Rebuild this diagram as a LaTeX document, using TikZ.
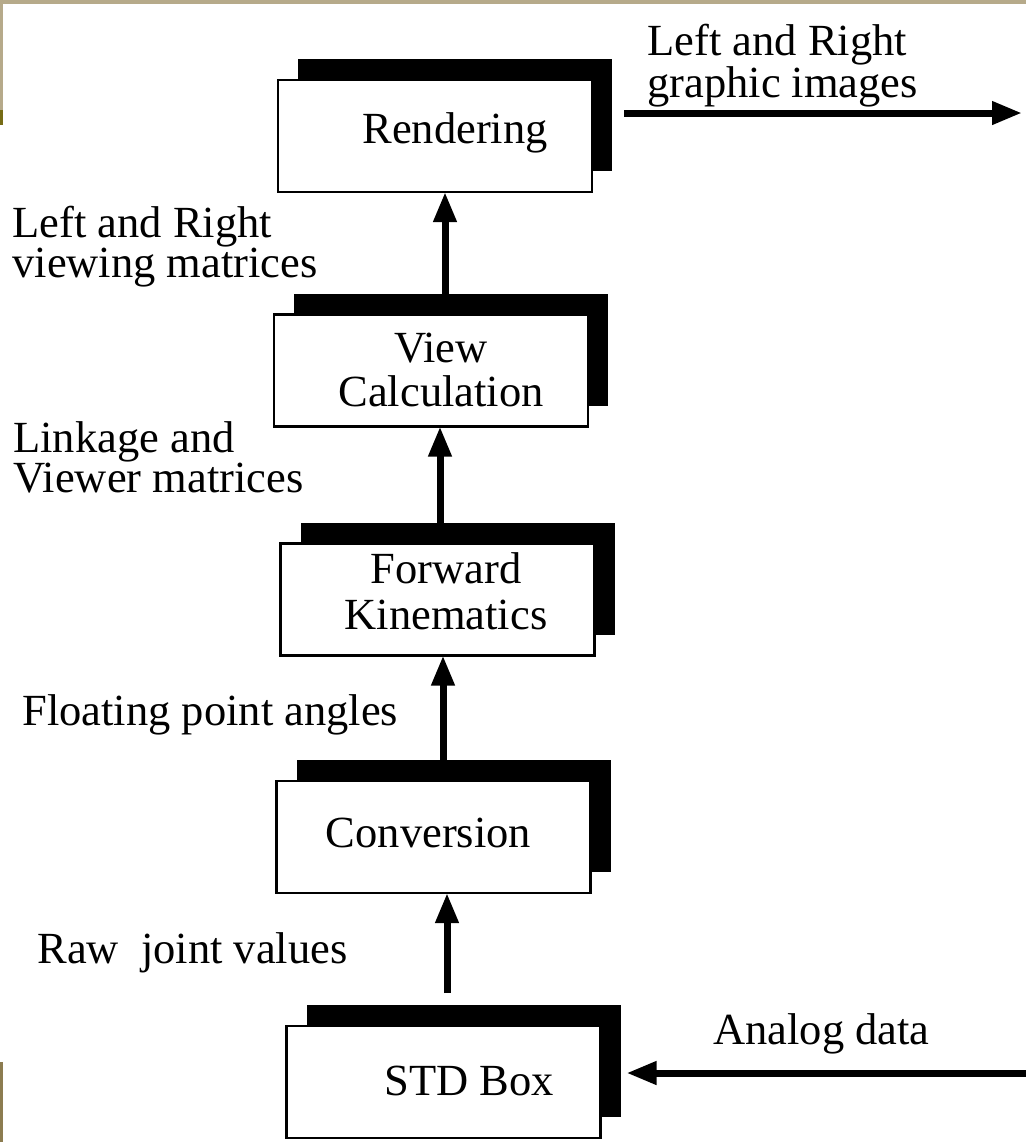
\documentclass[tikz,border=0pt]{standalone}
\usepackage{fontspec}
\setmainfont{Liberation Serif}
\usetikzlibrary{arrows.meta,calc}
\definecolor{khakiband}{RGB}{182,170,138}
\definecolor{olivebar}{RGB}{118,108,22}
\definecolor{darkkhaki}{RGB}{140,124,80}
\newcommand\twoleft[2]{\vtop{\baselineskip=20pt\hbox{#1}\hbox{#2}}}
\newcommand\twocent[3]{\vtop{\baselineskip=#3\halign{\hfil##\hfil\cr#1\cr#2\cr}}}
\begin{document}
\begin{tikzpicture}[x=0.5pt,y=-0.5pt,
  box/.style={draw,line width=1.2pt,fill=white,minimum width=157pt,minimum height=56pt,inner sep=0pt,outer sep=0pt},
  shadowbox/.style={fill=black,minimum width=157pt,minimum height=56pt,inner sep=0pt,outer sep=0pt},
  lbl/.style={inner sep=0pt,anchor=base west,font=\fontsize{22.25}{20}\selectfont},
  ttl/.style={inner sep=0pt,anchor=base,font=\fontsize{22.25}{22}\selectfont},
  arr/.style={line width=3.5pt,-{Triangle[length=15pt,width=11pt]}}]
\useasboundingbox (0,0) rectangle (1026,1142);
\fill[white] (0,0) rectangle (1026,1142);
% slide background edges
\fill[khakiband] (0,0) rectangle (1026,4);
\fill[khakiband] (0,0) rectangle (3,110);
\fill[olivebar] (0,110) rectangle (3,125);
\fill[darkkhaki] (0,1062) rectangle (3,1142);

% shadows
\node[shadowbox] (rs) at (455,115) {};
\node[shadowbox] (vs) at (451,349.5) {};
\node[shadowbox] (fs) at (457.5,578.5) {};
\node[shadowbox] (cs) at (453.5,816) {};
\node[shadowbox] (ss) at (463.5,1061) {};

% boxes
\node[box] (rend) at (435,136) {};
\node[box] (vc) at (431,370.5) {};
\node[box] (fk) at (437.5,599.5) {};
\node[box] (cv) at (433.5,837) {};
\node[box] (sd) at (443.5,1082) {};

% box texts
\node[ttl] (trend) at (455,143) {Rendering};
\node[ttl] (tvc) at (441,362) {\twocent{View}{Calculation}{22pt}};
\node[ttl] (tfk) at (446,583) {\twocent{Forward}{Kinematics}{23pt}};
\node[ttl] (tcv) at (428.5,847) {Conversion};
\node[ttl] (tsd) at (469,1095) {STD Box};

% connectors
\draw[arr] ($(vs.north)+(-6,0)$) -- ($(rend.south)+(10,0)$);
\draw[arr] ($(fs.north)+(-17.5,0)$) -- ($(vc.south)+(9,0)$);
\draw[arr] ($(cs.north)+(-10.5,0)$) -- ($(fk.south)+(5.5,0)$);
\draw[arr] ($(ss.north)+(-16.5,-12)$) -- ($(cv.south)+(13.5,0)$);

\coordinate (outR) at (1022,113);
\coordinate (inA) at (1026,1073);
\draw[arr] ($(rs.east)+(12,-2)$) -- (outR);
\draw[arr] (inA) -- ($(ss.east)+(6,12)$);

% labels
\node[lbl] (lout) at (647,55) {\twoleft{Left and Right}{graphic images}};
\node[lbl] (lview) at (12,237) {\twoleft{Left and Right}{viewing matrices}};
\node[lbl] (llink) at (13,452) {\twoleft{Linkage and}{Viewer matrices}};
\node[lbl] (lfloat) at (22,725) {Floating point angles};
\node[lbl] (lraw) at (37,963) {Raw\ \ joint values};
\node[lbl] (lana) at (713,1044) {Analog data};
\end{tikzpicture}
\end{document}
